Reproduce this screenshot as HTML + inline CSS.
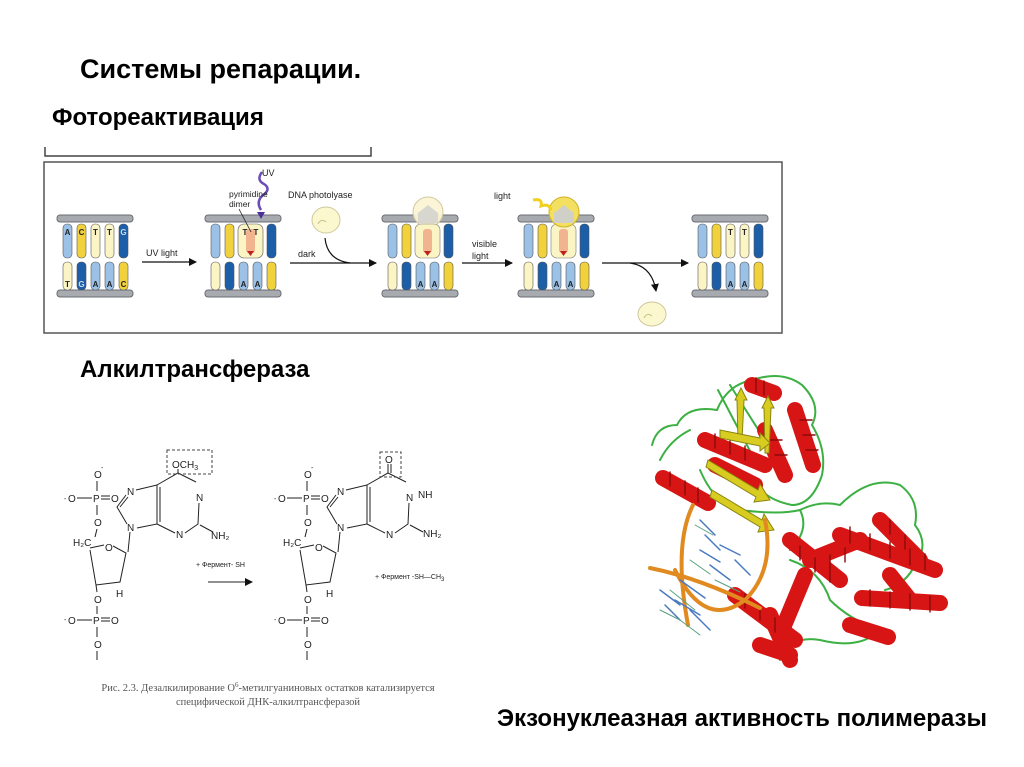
<!DOCTYPE html>
<html><head><meta charset="utf-8"><style>
html,body{margin:0;padding:0;background:#fff;}
svg{display:block}
.t{font-family:"Liberation Sans",Arial,sans-serif;}
</style></head><body>
<svg width="1024" height="767" viewBox="0 0 1024 767" xmlns="http://www.w3.org/2000/svg" class="t">
<defs>
<marker id="ar" markerWidth="8" markerHeight="8" refX="7" refY="4" orient="auto" markerUnits="userSpaceOnUse"><path d="M0,0 L8,4 L0,8 z" fill="#111"/></marker>
<g id="rails">
  <rect x="0" y="0" width="76" height="7" rx="3" fill="#a7abb0" stroke="#6a6e73" stroke-width="1"/>
  <rect x="0" y="75" width="76" height="7" rx="3" fill="#a7abb0" stroke="#6a6e73" stroke-width="1"/>
</g>
</defs>

<text x="80" y="78" font-size="27" font-weight="bold" fill="#000">Системы репарации.</text>
<text x="52" y="125" font-size="24" font-weight="bold" fill="#000">Фотореактивация</text>
<path d="M45,147 V156 H371 V147" fill="none" stroke="#444" stroke-width="1.5"/>
<rect x="44" y="162" width="738" height="171" fill="#fff" stroke="#555" stroke-width="1.5"/>

<g transform="translate(57,215)">
 <use href="#rails"/>
 <g stroke="#555" stroke-width="0.6">
 <rect x="6" y="9" width="9" height="34" rx="4" fill="#9cc1e6"/>
 <rect x="20" y="9" width="9" height="34" rx="4" fill="#f2d23c"/>
 <rect x="34" y="9" width="9" height="34" rx="4" fill="#fbf4c4"/>
 <rect x="48" y="9" width="9" height="34" rx="4" fill="#fbf4c4"/>
 <rect x="62" y="9" width="9" height="34" rx="4" fill="#1d5ea8"/>
 <rect x="6" y="47" width="9" height="28" rx="4" fill="#fbf4c4"/>
 <rect x="20" y="47" width="9" height="28" rx="4" fill="#1d5ea8"/>
 <rect x="34" y="47" width="9" height="28" rx="4" fill="#9cc1e6"/>
 <rect x="48" y="47" width="9" height="28" rx="4" fill="#9cc1e6"/>
 <rect x="62" y="47" width="9" height="28" rx="4" fill="#f2d23c"/>
 </g>
 <g font-size="8" font-weight="bold" fill="#222" text-anchor="middle">
 <text x="10.5" y="20">A</text><text x="24.5" y="20">C</text><text x="38.5" y="20">T</text><text x="52.5" y="20">T</text><text x="66.5" y="20" fill="#cde">G</text>
 <text x="10.5" y="72">T</text><text x="24.5" y="72" fill="#cde">G</text><text x="38.5" y="72">A</text><text x="52.5" y="72">A</text><text x="66.5" y="72">C</text>
 </g>
</g>
<line x1="142" y1="262" x2="196" y2="262" stroke="#111" stroke-width="1.2" marker-end="url(#ar)"/>
<text x="146" y="256" font-size="9" fill="#222">UV light</text>

<g transform="translate(205,215)">
 <use href="#rails"/>
 <g stroke="#555" stroke-width="0.6">
 <rect x="6" y="9" width="9" height="34" rx="4" fill="#9cc1e6"/>
 <rect x="20" y="9" width="9" height="34" rx="4" fill="#f2d23c"/>
 <rect x="33" y="9" width="25" height="34" rx="6" fill="#fbf4c4"/>
 <rect x="41" y="14" width="9" height="24" rx="3" fill="#f1b48e" stroke="none"/>
 <path d="M42,36 L45.5,41 L49,36z" fill="#c02020" stroke="none"/>
 <rect x="62" y="9" width="9" height="34" rx="4" fill="#1d5ea8"/>
 <rect x="6" y="47" width="9" height="28" rx="4" fill="#fbf4c4"/>
 <rect x="20" y="47" width="9" height="28" rx="4" fill="#1d5ea8"/>
 <rect x="34" y="47" width="9" height="28" rx="4" fill="#9cc1e6"/>
 <rect x="48" y="47" width="9" height="28" rx="4" fill="#9cc1e6"/>
 <rect x="62" y="47" width="9" height="28" rx="4" fill="#f2d23c"/>
 </g>
 <g font-size="8" font-weight="bold" fill="#222" text-anchor="middle">
 <text x="40" y="20">T</text><text x="51" y="20">T</text><text x="38.5" y="72">A</text><text x="52.5" y="72">A</text>
 </g>
</g>
<path d="M262,172 q-6,8 2,12 q8,5 -2,12 q-6,6 -1,14" fill="none" stroke="#6a4bb8" stroke-width="2.5"/>
<path d="M257,212 l4,7 l4,-7z" fill="#4a2f9a"/>
<text x="262" y="176" font-size="9" fill="#222">UV</text>
<text x="229" y="197" font-size="8.5" fill="#222">pyrimidine</text>
<text x="229" y="207" font-size="8.5" fill="#222">dimer</text>
<line x1="239" y1="209" x2="251" y2="232" stroke="#222" stroke-width="0.8"/>
<text x="288" y="198" font-size="9" fill="#222">DNA photolyase</text>
<path d="M312,220 a14,13 0 1,1 28,0 a14,13 0 1,1 -28,0z" fill="#fbf8d0" stroke="#cfc79a" stroke-width="1"/>
<path d="M318,224 q3,-6 8,-2" fill="none" stroke="#c9c08a"/>
<line x1="290" y1="263" x2="376" y2="263" stroke="#111" stroke-width="1.2" marker-end="url(#ar)"/>
<path d="M325,238 q2,22 25,25" fill="none" stroke="#111" stroke-width="1.2"/>
<text x="298" y="257" font-size="9" fill="#222">dark</text>

<g transform="translate(382,215)">
 <use href="#rails"/>
 <g stroke="#555" stroke-width="0.6">
 <rect x="6" y="9" width="9" height="34" rx="4" fill="#9cc1e6"/>
 <rect x="20" y="9" width="9" height="34" rx="4" fill="#f2d23c"/>
 <rect x="62" y="9" width="9" height="34" rx="4" fill="#1d5ea8"/>
 <rect x="6" y="47" width="9" height="28" rx="4" fill="#fbf4c4"/>
 <rect x="20" y="47" width="9" height="28" rx="4" fill="#1d5ea8"/>
 <rect x="34" y="47" width="9" height="28" rx="4" fill="#9cc1e6"/>
 <rect x="48" y="47" width="9" height="28" rx="4" fill="#9cc1e6"/>
 <rect x="62" y="47" width="9" height="28" rx="4" fill="#f2d23c"/>
 </g>
 <circle cx="46" cy="-3" r="15" fill="#fbf4d4" stroke="#cfc79a" opacity="0.95"/>
 <rect x="33" y="9" width="25" height="34" rx="6" fill="#fbf4c4" stroke="#777" stroke-width="0.6"/>
 <path d="M36,-2 l10,-8 l10,8 v10 h-20z" fill="#d7d7d0"/>
 <rect x="41" y="14" width="9" height="24" rx="3" fill="#f1b48e"/>
 <path d="M42,36 L45.5,41 L49,36z" fill="#c02020"/>
 <g font-size="8" font-weight="bold" fill="#222" text-anchor="middle"><text x="38.5" y="72">A</text><text x="52.5" y="72">A</text></g>
</g>
<line x1="462" y1="263" x2="512" y2="263" stroke="#111" stroke-width="1.2" marker-end="url(#ar)"/>
<text x="472" y="247" font-size="9" fill="#222">visible</text>
<text x="472" y="259" font-size="9" fill="#222">light</text>

<g transform="translate(518,215)">
 <use href="#rails"/>
 <g stroke="#555" stroke-width="0.6">
 <rect x="6" y="9" width="9" height="34" rx="4" fill="#9cc1e6"/>
 <rect x="20" y="9" width="9" height="34" rx="4" fill="#f2d23c"/>
 <rect x="62" y="9" width="9" height="34" rx="4" fill="#1d5ea8"/>
 <rect x="6" y="47" width="9" height="28" rx="4" fill="#fbf4c4"/>
 <rect x="20" y="47" width="9" height="28" rx="4" fill="#1d5ea8"/>
 <rect x="34" y="47" width="9" height="28" rx="4" fill="#9cc1e6"/>
 <rect x="48" y="47" width="9" height="28" rx="4" fill="#9cc1e6"/>
 <rect x="62" y="47" width="9" height="28" rx="4" fill="#f2d23c"/>
 </g>
 <rect x="33" y="9" width="25" height="34" rx="6" fill="#fbf4c4" stroke="#777" stroke-width="0.6"/>
 <circle cx="46" cy="-3" r="15" fill="#f4e060" stroke="#d0b020"/>
 <path d="M36,-2 l10,-8 l10,8 v10 h-20z" fill="#d0d0c8"/>
 <rect x="41" y="14" width="9" height="24" rx="3" fill="#f1b48e"/>
 <path d="M42,36 L45.5,41 L49,36z" fill="#c02020"/>
 <g font-size="8" font-weight="bold" fill="#222" text-anchor="middle"><text x="38.5" y="72">A</text><text x="52.5" y="72">A</text></g>
</g>
<path d="M533,200 q10,-2 8,6 q8,-3 10,4" fill="none" stroke="#f0d020" stroke-width="3"/>
<text x="494" y="199" font-size="9" fill="#222">light</text>
<line x1="602" y1="263" x2="688" y2="263" stroke="#111" stroke-width="1.2" marker-end="url(#ar)"/>
<path d="M630,263 q22,3 26,28" fill="none" stroke="#111" stroke-width="1.2" marker-end="url(#ar)"/>
<path d="M638,314 a14,12 0 1,1 28,0 a14,12 0 1,1 -28,0z" fill="#fbf8d0" stroke="#cfc79a" stroke-width="1"/>
<path d="M644,318 q3,-6 8,-2" fill="none" stroke="#c9c08a"/>

<g transform="translate(692,215)">
 <use href="#rails"/>
 <g stroke="#555" stroke-width="0.6">
 <rect x="6" y="9" width="9" height="34" rx="4" fill="#9cc1e6"/>
 <rect x="20" y="9" width="9" height="34" rx="4" fill="#f2d23c"/>
 <rect x="34" y="9" width="9" height="34" rx="4" fill="#fbf4c4"/>
 <rect x="48" y="9" width="9" height="34" rx="4" fill="#fbf4c4"/>
 <rect x="62" y="9" width="9" height="34" rx="4" fill="#1d5ea8"/>
 <rect x="6" y="47" width="9" height="28" rx="4" fill="#fbf4c4"/>
 <rect x="20" y="47" width="9" height="28" rx="4" fill="#1d5ea8"/>
 <rect x="34" y="47" width="9" height="28" rx="4" fill="#9cc1e6"/>
 <rect x="48" y="47" width="9" height="28" rx="4" fill="#9cc1e6"/>
 <rect x="62" y="47" width="9" height="28" rx="4" fill="#f2d23c"/>
 </g>
 <g font-size="8" font-weight="bold" fill="#222" text-anchor="middle">
 <text x="38.5" y="20">T</text><text x="52.5" y="20">T</text><text x="38.5" y="72">A</text><text x="52.5" y="72">A</text>
 </g>
</g>

<text x="80" y="377" font-size="24" font-weight="bold" fill="#000">Алкилтрансфераза</text>

<g font-size="10" fill="#222" stroke-width="1" >
 <g id="sugar">
 <text x="94" y="478">O</text><text x="101" y="470" font-size="7">-</text>
 <line x1="97" y1="481" x2="97" y2="491" stroke="#222"/>
 <text x="64" y="501" font-size="7">-</text><text x="68" y="502">O</text>
 <line x1="77" y1="498" x2="92" y2="498" stroke="#222"/>
 <text x="93" y="502">P</text>
 <line x1="101" y1="496" x2="110" y2="496" stroke="#222"/><line x1="101" y1="499" x2="110" y2="499" stroke="#222"/>
 <text x="111" y="502">O</text>
 <line x1="97" y1="505" x2="97" y2="515" stroke="#222"/>
 <text x="94" y="526">O</text>
 <line x1="97" y1="529" x2="95" y2="537" stroke="#222"/>
 <text x="73" y="546">H₂C</text>
 <text x="105" y="551">O</text>
 <path d="M90,548 L104,545 M113,546 L126,553 L120,582 L96,585 L90,550" fill="none" stroke="#222"/>
 <text x="116" y="597">H</text>
 <line x1="96" y1="585" x2="97" y2="592" stroke="#222"/>
 <text x="94" y="603">O</text>
 <line x1="97" y1="606" x2="97" y2="614" stroke="#222"/>
 <text x="64" y="622" font-size="7">-</text><text x="68" y="624">O</text>
 <line x1="77" y1="620" x2="92" y2="620" stroke="#222"/>
 <text x="93" y="624">P</text>
 <line x1="101" y1="618" x2="110" y2="618" stroke="#222"/><line x1="101" y1="621" x2="110" y2="621" stroke="#222"/>
 <text x="111" y="624">O</text>
 <line x1="97" y1="627" x2="97" y2="637" stroke="#222"/>
 <text x="94" y="648">O</text>
 <line x1="97" y1="651" x2="97" y2="660" stroke="#222"/>
 <line x1="128" y1="552" x2="130" y2="532" stroke="#222"/>
 <text x="127" y="531">N</text>
 <path d="M127,524 L117,507 L126,495 M120,507 L128,497" fill="none" stroke="#222"/>
 <text x="127" y="495">N</text>
 <path d="M136,490 L157,485 L157,524 L137,528 M160,487 L160,522" fill="none" stroke="#222"/>
 <path d="M157,485 L178,473 L196,482 M157,524 L175,533 M185,533 L198,524 L199,503" fill="none" stroke="#222"/>
 <text x="176" y="538">N</text>
 <text x="196" y="501">N</text>
 <line x1="200" y1="525" x2="213" y2="532" stroke="#222"/>
 </g>
 <text x="211" y="539">NH₂</text>
 <line x1="178" y1="473" x2="178" y2="469" stroke="#222"/>
 <text x="172" y="468">OCH<tspan font-size="7" dy="2">3</tspan></text>
 <rect x="167" y="450" width="45" height="24" fill="none" stroke="#444" stroke-dasharray="3,2"/>

 <text x="196" y="567" font-size="7">+ Фермент- SH</text>
 <line x1="208" y1="582" x2="252" y2="582" stroke="#222" marker-end="url(#ar)"/>

 <use href="#sugar" transform="translate(210,0)"/>
 <text x="423" y="537">NH₂</text>
 <text x="418" y="498">NH</text>
 <line x1="388" y1="473" x2="388" y2="464" stroke="#222"/><line x1="391" y1="473" x2="391" y2="464" stroke="#222"/>
 <text x="385" y="463">O</text>
 <rect x="380" y="452" width="21" height="25" fill="none" stroke="#444" stroke-dasharray="3,2"/>
 <text x="375" y="579" font-size="7">+ Фермент  -SH—CH<tspan font-size="6" dy="2">3</tspan></text>
</g>
<text x="268" y="691" font-family="Liberation Serif,serif" font-size="10.5" fill="#555" text-anchor="middle">Рис. 2.3. Дезалкилирование O<tspan dy="-4" font-size="7">6</tspan><tspan dy="4">-метилгуаниновых остатков катализируется</tspan></text>
<text x="268" y="705" font-family="Liberation Serif,serif" font-size="10.5" fill="#555" text-anchor="middle">специфической ДНК-алкилтрансферазой</text>

<g fill="none" stroke-linecap="round">
 <g stroke="#3cb043" stroke-width="2">
  <path d="M652,445 q5,-20 25,-20 q10,-20 40,-15 q10,-25 35,-30 q30,-10 50,5 q20,20 10,40 q15,25 10,50 q-10,30 -30,30 q-25,-5 -35,-20"/>
  <path d="M700,470 q15,35 40,40 q40,5 60,0 q10,20 -10,40"/>
  <path d="M800,510 q20,-10 40,-5 q30,-30 60,-20 q20,15 15,40 q15,20 0,40 q-10,20 -30,25"/>
  <path d="M790,560 q30,10 40,40 q20,20 50,30 q-20,20 -60,10 q-30,-5 -40,20"/>
  <path d="M718,390 L760,470 M730,385 L790,480 M690,430 q-20,10 -30,30"/>
 </g>
 <g stroke="#d81515" stroke-width="16">
  <path d="M752,385 l22,8"/>
  <path d="M795,410 l18,55"/>
  <path d="M765,430 l20,45"/>
  <path d="M705,440 l60,25"/>
  <path d="M715,465 l40,20"/>
  <path d="M663,478 l45,25"/>
  <path d="M735,595 l60,45"/>
  <path d="M790,540 l50,40"/>
  <path d="M810,560 l50,-20"/>
  <path d="M840,535 l95,35"/>
  <path d="M862,598 l78,5"/>
  <path d="M850,625 l38,12"/>
  <path d="M770,615 l20,45"/>
  <path d="M805,575 l-25,60"/>
  <path d="M880,520 l40,40"/>
  <path d="M760,645 l30,10"/>
  <path d="M890,575 l20,25"/>
 </g>
 <g stroke="#8c0a0a" stroke-width="1.4">
  <path d="M756,378 v14 M764,381 v14 M800,420 h12 M803,435 h12 M806,450 h12 M715,434 v14 M730,440 v14 M745,446 v14 M670,472 v14 M685,481 v14 M698,488 v14 M850,527 v16 M870,534 v16 M890,542 v16 M910,549 v16 M925,554 v16 M870,590 v16 M890,592 v16 M910,594 v16 M930,596 v16 M745,594 v14 M760,606 v14 M775,618 v14 M800,546 v14 M815,558 v14 M830,568 v14 M770,440 h12 M775,455 h12 M890,520 v14 M905,535 v14 M830,555 v14 M845,548 v14"/>
 </g>
 <g fill="#d8cc20" stroke="#8a8410" stroke-width="1">
  <path d="M735,400 l6,-12 l6,12 l-3,0 l-2,40 l-4,0 l-1,-40z"/>
  <path d="M762,408 l6,-12 l6,12 l-3,0 l-2,45 l-4,0 l-1,-45z"/>
  <path d="M708,460 l50,30 l2,-6 l10,16 l-16,2 l2,-5 l-50,-30z"/>
  <path d="M712,490 l50,30 l2,-6 l10,16 l-16,2 l2,-5 l-50,-30z"/>
  <path d="M720,430 l40,8 l0,-5 l10,10 l-10,8 l0,-5 l-40,-8z"/>
 </g>
 <path d="M765,520 q10,50 -20,80 q-40,30 -70,-30 M693,505 q-20,40 -5,120 M650,568 q50,10 110,40" stroke="#e08a20" stroke-width="4"/>
 <g stroke="#4a7ac0" stroke-width="1.5">
  <path d="M700,520 l15,15 M705,535 l15,15 M700,550 l20,12 M710,565 l20,15 M680,580 l25,18 M675,600 l25,15 M720,545 l20,10 M735,560 l15,15 M690,610 l20,20 M660,590 l20,15 M665,605 l15,15"/>
 </g>
 <g stroke="#5aa080" stroke-width="1">
  <path d="M695,525 l18,10 M690,560 l20,14 M670,590 l25,20 M715,580 l25,12 M680,620 l20,15 M660,610 l20,10"/>
 </g>
</g>

<text x="497" y="726" font-size="24" font-weight="bold" fill="#000">Экзонуклеазная активность полимеразы</text>
</svg>
</body></html>
